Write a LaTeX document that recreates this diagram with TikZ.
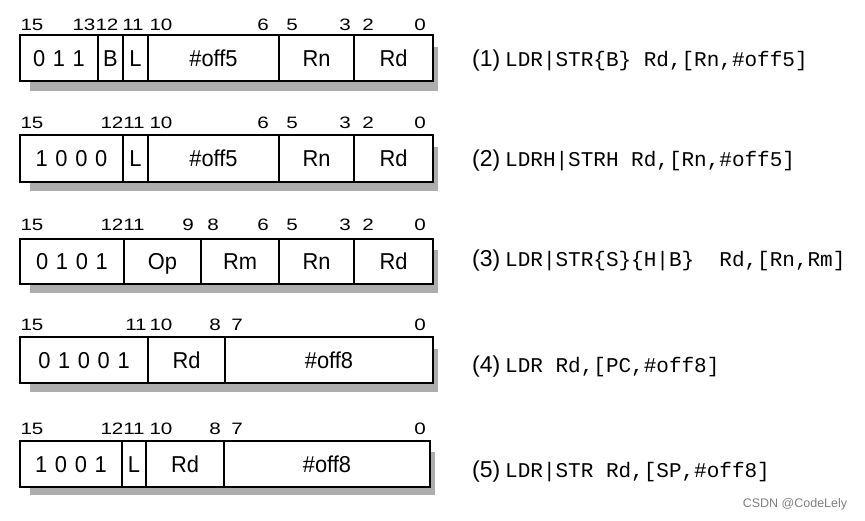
\documentclass[tikz,border=0pt]{standalone}
\usepackage{fontspec}
\setmainfont{Liberation Sans}
\newfontfamily\boxfont[FakeStretch=0.95]{Liberation Sans}
\newfontfamily\bitfont[FakeStretch=1.25]{Liberation Sans}
\newfontfamily\codefont{Liberation Mono}
\begin{document}
\begin{tikzpicture}[x=1pt,y=-1pt,
  field/.style={draw, line width=1.5pt, minimum height=46pt, inner sep=0pt, outer sep=0pt, anchor=west, text height=16.5pt, text depth=0pt, font=\boxfont\fontsize{23}{23}\selectfont},
  bit/.style={inner sep=0pt, text height=12pt, text depth=0pt, font=\bitfont\fontsize{16.5}{16.5}\selectfont},
  shadowbox/.style={fill=black!32, draw=none},
  numlabel/.style={inner sep=0pt, anchor=base west, font=\fontsize{23}{23}\selectfont},
  codelabel/.style={inner sep=0pt, anchor=base west, font=\codefont\fontsize{21}{21}\selectfont},
  thick divider/.style={line width=2.2pt}]
\useasboundingbox (0,0) rectangle (865,521);
\fill[white] (0,0) rectangle (865,521);

% ---------- Row 1 ----------
\fill[shadowbox] (30,47) rectangle (438,91);
\fill[white] (20,35) rectangle (433,81);
\node[field, minimum width=78pt] (a1) at (20,58) {0\,\,1\,\,1};
\node[field, minimum width=25pt] (a2) at (98,58) {B};
\node[field, minimum width=25pt] (a3) at (123,58) {L};
\node[field, minimum width=131pt] (a4) at (148,58) {\#off5};
\node[field, minimum width=75pt] (a5) at (279,58) {Rn};
\node[field, minimum width=79pt] (a6) at (354,58) {Rd};
\draw[thick divider] (a4.north west) -- (a4.south west);
\draw[thick divider] (a5.north west) -- (a5.south west);
\foreach \x/\t in {32/15,84/13,107/12,133/11,161/10,263/6,292/5,345/3,368/2,420/0}
  \node[bit] at (\x,25) {\t};
\node[numlabel] (n1) at (472,67) {(1)};
\node[codelabel] (c1) at (505,67) {LDR|STR\{B\} Rd,[Rn,\#off5]};

% ---------- Row 2 ----------
\fill[shadowbox] (30,147) rectangle (438,191);
\fill[white] (20,135) rectangle (433,182);
\node[field, minimum width=103pt, minimum height=47pt] (b1) at (20,158.5) {1\,\,0\,\,0\,\,0};
\node[field, minimum width=25pt, minimum height=47pt] (b2) at (123,158.5) {L};
\node[field, minimum width=131pt, minimum height=47pt] (b3) at (148,158.5) {\#off5};
\node[field, minimum width=75pt, minimum height=47pt] (b4) at (279,158.5) {Rn};
\node[field, minimum width=79pt, minimum height=47pt] (b5) at (354,158.5) {Rd};
\draw[thick divider] (b3.north west) -- (b3.south west);
\draw[thick divider] (b4.north west) -- (b4.south west);
\foreach \x/\t in {32/15,112/12,134/11,161/10,263/6,292/5,345/3,368/2,420/0}
  \node[bit] at (\x,123) {\t};
\node[numlabel] (n2) at (472,167) {(2)};
\node[codelabel] (c2) at (505,167) {LDRH|STRH Rd,[Rn,\#off5]};

% ---------- Row 3 ----------
\fill[shadowbox] (30,250) rectangle (438,293);
\fill[white] (20,239) rectangle (433,284);
\node[field, minimum width=104pt, minimum height=45pt] (d1) at (20,261.5) {0\,\,1\,\,0\,\,1};
\node[field, minimum width=77pt, minimum height=45pt] (d2) at (124,261.5) {Op};
\node[field, minimum width=78pt, minimum height=45pt] (d3) at (201,261.5) {Rm};
\node[field, minimum width=75pt, minimum height=45pt] (d4) at (279,261.5) {Rn};
\node[field, minimum width=79pt, minimum height=45pt] (d5) at (354,261.5) {Rd};
\draw[thick divider] (d4.north west) -- (d4.south west);
\foreach \x/\t in {32/15,112/12,134/11,188/9,213/8,263/6,292/5,345/3,368/2,420/0}
  \node[bit] at (\x,225) {\t};
\node[numlabel] (n3) at (472,267) {(3)};
\node[codelabel] (c3) at (505,267) {LDR|STR\{S\}\{H|B\}\ \ Rd,[Rn,Rm]};

% ---------- Row 4 ----------
\fill[shadowbox] (30,349) rectangle (438,392);
\fill[white] (20,337) rectangle (433,383);
\node[field, minimum width=128pt] (e1) at (20,360) {0\,\,1\,\,0\,\,0\,\,1};
\node[field, minimum width=77pt] (e2) at (148,360) {Rd};
\node[field, minimum width=208pt] (e3) at (225,360) {\#off8};
\draw[thick divider] (e2.north west) -- (e2.south west);
\foreach \x/\t in {32/15,136/11,161/10,215/8,237/7,420/0}
  \node[bit] at (\x,325) {\t};
\node[numlabel] (n4) at (472,372) {(4)};
\node[codelabel] (c4) at (505,372) {LDR Rd,[PC,\#off8]};

% ---------- Row 5 ----------
\fill[shadowbox] (30,452) rectangle (435,495);
\fill[white] (20,441) rectangle (430,487);
\node[field, minimum width=102pt] (f1) at (20,464) {1\,\,0\,\,0\,\,1};
\node[field, minimum width=24pt] (f2) at (122,464) {L};
\node[field, minimum width=78pt] (f3) at (146,464) {Rd};
\node[field, minimum width=206pt] (f4) at (224,464) {\#off8};
\foreach \x/\t in {32/15,112/12,134/11,161/10,215/8,237/7,420/0}
  \node[bit] at (\x,428) {\t};
\node[numlabel] (n5) at (472,477) {(5)};
\node[codelabel] (c5) at (505,477) {LDR|STR Rd,[SP,\#off8]};

% watermark
\node[inner sep=0pt, text=black!50, font=\fontsize{12.5}{12.5}\selectfont] (wm) at (795,504) {CSDN @CodeLely};
\end{tikzpicture}
\end{document}
